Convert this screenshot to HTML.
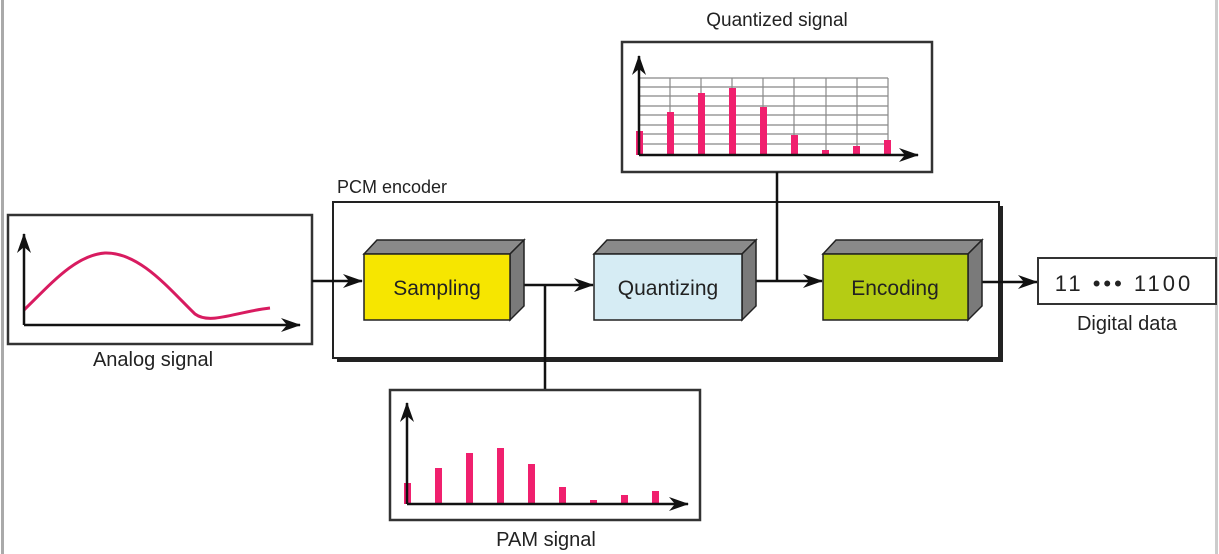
<!DOCTYPE html>
<html><head><meta charset="utf-8"><style>
html,body{margin:0;padding:0;background:#fff;}
svg{display:block;font-family:"Liberation Sans","DejaVu Sans",sans-serif;}
</style></head><body>
<svg width="1219" height="554" viewBox="0 0 1219 554" xmlns="http://www.w3.org/2000/svg">
<defs>
<marker id="ah" markerWidth="20" markerHeight="14" refX="19" refY="7" orient="auto" markerUnits="userSpaceOnUse">
<path d="M0,0 L20,7 L0,14 L6,7 Z" fill="#111"/>
</marker>
</defs>
<rect x="0" y="0" width="1219" height="554" fill="#fff"/>
<rect x="1" y="0" width="3" height="554" fill="#aaa"/>
<rect x="1215" y="0" width="3" height="554" fill="#ccc"/>

<!-- Quantized signal -->
<text x="777" y="26" font-size="19" text-anchor="middle" fill="#222">Quantized signal</text>
<rect x="622" y="42" width="310" height="130" fill="#fff" stroke="#333" stroke-width="2.5"/>
<g stroke="#888" stroke-width="1.2">
<line x1="639" y1="78" x2="888" y2="78"/><line x1="639" y1="87" x2="888" y2="87"/>
<line x1="639" y1="96" x2="888" y2="96"/><line x1="639" y1="106" x2="888" y2="106"/>
<line x1="639" y1="115" x2="888" y2="115"/><line x1="639" y1="125" x2="888" y2="125"/>
<line x1="639" y1="134" x2="888" y2="134"/><line x1="639" y1="144" x2="888" y2="144"/>
<line x1="670" y1="78" x2="670" y2="155"/><line x1="701" y1="78" x2="701" y2="155"/>
<line x1="732" y1="78" x2="732" y2="155"/><line x1="763" y1="78" x2="763" y2="155"/>
<line x1="794" y1="78" x2="794" y2="155"/><line x1="826" y1="78" x2="826" y2="155"/>
<line x1="857" y1="78" x2="857" y2="155"/><line x1="888" y1="78" x2="888" y2="155"/>
</g>
<g fill="#f0206e">
<rect x="636" y="131" width="7" height="24"/><rect x="667" y="112" width="7" height="43"/>
<rect x="698" y="93" width="7" height="62"/><rect x="729" y="88" width="7" height="67"/>
<rect x="760" y="107" width="7" height="48"/><rect x="791" y="135" width="7" height="20"/>
<rect x="822" y="150" width="7" height="5"/><rect x="853" y="146" width="7" height="9"/>
<rect x="884" y="140" width="7" height="15"/>
</g>
<line x1="639" y1="155" x2="639" y2="56" stroke="#111" stroke-width="2.5" marker-end="url(#ah)"/>
<line x1="639" y1="155" x2="918" y2="155" stroke="#111" stroke-width="2.5" marker-end="url(#ah)"/>

<!-- PCM encoder -->
<text x="337" y="193" font-size="18" fill="#222">PCM encoder</text>
<rect x="337" y="206" width="666" height="156" fill="#222"/>
<rect x="333" y="202" width="666" height="156" fill="#fff" stroke="#222" stroke-width="2"/>

<!-- Analog -->
<rect x="8" y="215" width="304" height="129" fill="#fff" stroke="#333" stroke-width="2.5"/>
<path d="M24,310 C50,285 75,255 105,253 C140,252 170,290 195,314 C210,325 235,312 270,308" fill="none" stroke="#d81b60" stroke-width="3"/>
<line x1="24" y1="325" x2="24" y2="234" stroke="#111" stroke-width="2.5" marker-end="url(#ah)"/>
<line x1="24" y1="325" x2="300" y2="325" stroke="#111" stroke-width="2.5" marker-end="url(#ah)"/>
<text x="153" y="366" font-size="20" text-anchor="middle" fill="#222">Analog signal</text>

<!-- lines/arrows -->
<g stroke="#111" stroke-width="2.5" fill="none">
<line x1="312" y1="281" x2="362" y2="281" marker-end="url(#ah)"/>
<line x1="524" y1="285" x2="593" y2="285" marker-end="url(#ah)"/>
<line x1="545" y1="285" x2="545" y2="390"/>
<line x1="756" y1="281" x2="822" y2="281" marker-end="url(#ah)"/>
<line x1="777" y1="172" x2="777" y2="281"/>
<line x1="980" y1="282" x2="1037" y2="282" marker-end="url(#ah)"/>
</g>

<!-- 3D boxes -->
<g stroke="#222" stroke-width="1.5">
<polygon points="364,254 377,240 524,240 510,254" fill="#8a8a8a"/>
<polygon points="510,254 524,240 524,306 510,320" fill="#7a7a7a"/>
<rect x="364" y="254" width="146" height="66" fill="#f6e600"/>
<polygon points="594,254 607,240 756,240 742,254" fill="#8a8a8a"/>
<polygon points="742,254 756,240 756,306 742,320" fill="#7a7a7a"/>
<rect x="594" y="254" width="148" height="66" fill="#d6ecf4"/>
<polygon points="823,254 836,240 982,240 968,254" fill="#8a8a8a"/>
<polygon points="968,254 982,240 982,306 968,320" fill="#7a7a7a"/>
<rect x="823" y="254" width="145" height="66" fill="#b5cc14"/>
</g>
<text x="437" y="295" font-size="21" text-anchor="middle" fill="#222">Sampling</text>
<text x="668" y="295" font-size="21" text-anchor="middle" fill="#222">Quantizing</text>
<text x="895" y="295" font-size="21" text-anchor="middle" fill="#222">Encoding</text>

<!-- Digital data -->
<rect x="1038" y="258" width="178" height="46" fill="#fff" stroke="#333" stroke-width="2"/>
<text x="1124" y="291" font-size="22" text-anchor="middle" fill="#222" letter-spacing="3">11 ••• 1100</text>
<text x="1127" y="330" font-size="20" text-anchor="middle" fill="#222">Digital data</text>

<!-- PAM -->
<rect x="390" y="390" width="310" height="130" fill="#fff" stroke="#333" stroke-width="2.5"/>
<g fill="#f0206e">
<rect x="404" y="483" width="7" height="21"/><rect x="435" y="468" width="7" height="36"/>
<rect x="466" y="453" width="7" height="51"/><rect x="497" y="448" width="7" height="56"/>
<rect x="528" y="464" width="7" height="40"/><rect x="559" y="487" width="7" height="17"/>
<rect x="590" y="500" width="7" height="4"/><rect x="621" y="495" width="7" height="9"/>
<rect x="652" y="491" width="7" height="13"/>
</g>
<line x1="407" y1="504" x2="407" y2="403" stroke="#111" stroke-width="2.5" marker-end="url(#ah)"/>
<line x1="407" y1="504" x2="688" y2="504" stroke="#111" stroke-width="2.5" marker-end="url(#ah)"/>
<text x="546" y="546" font-size="20" text-anchor="middle" fill="#222">PAM signal</text>
</svg>
</body></html>
